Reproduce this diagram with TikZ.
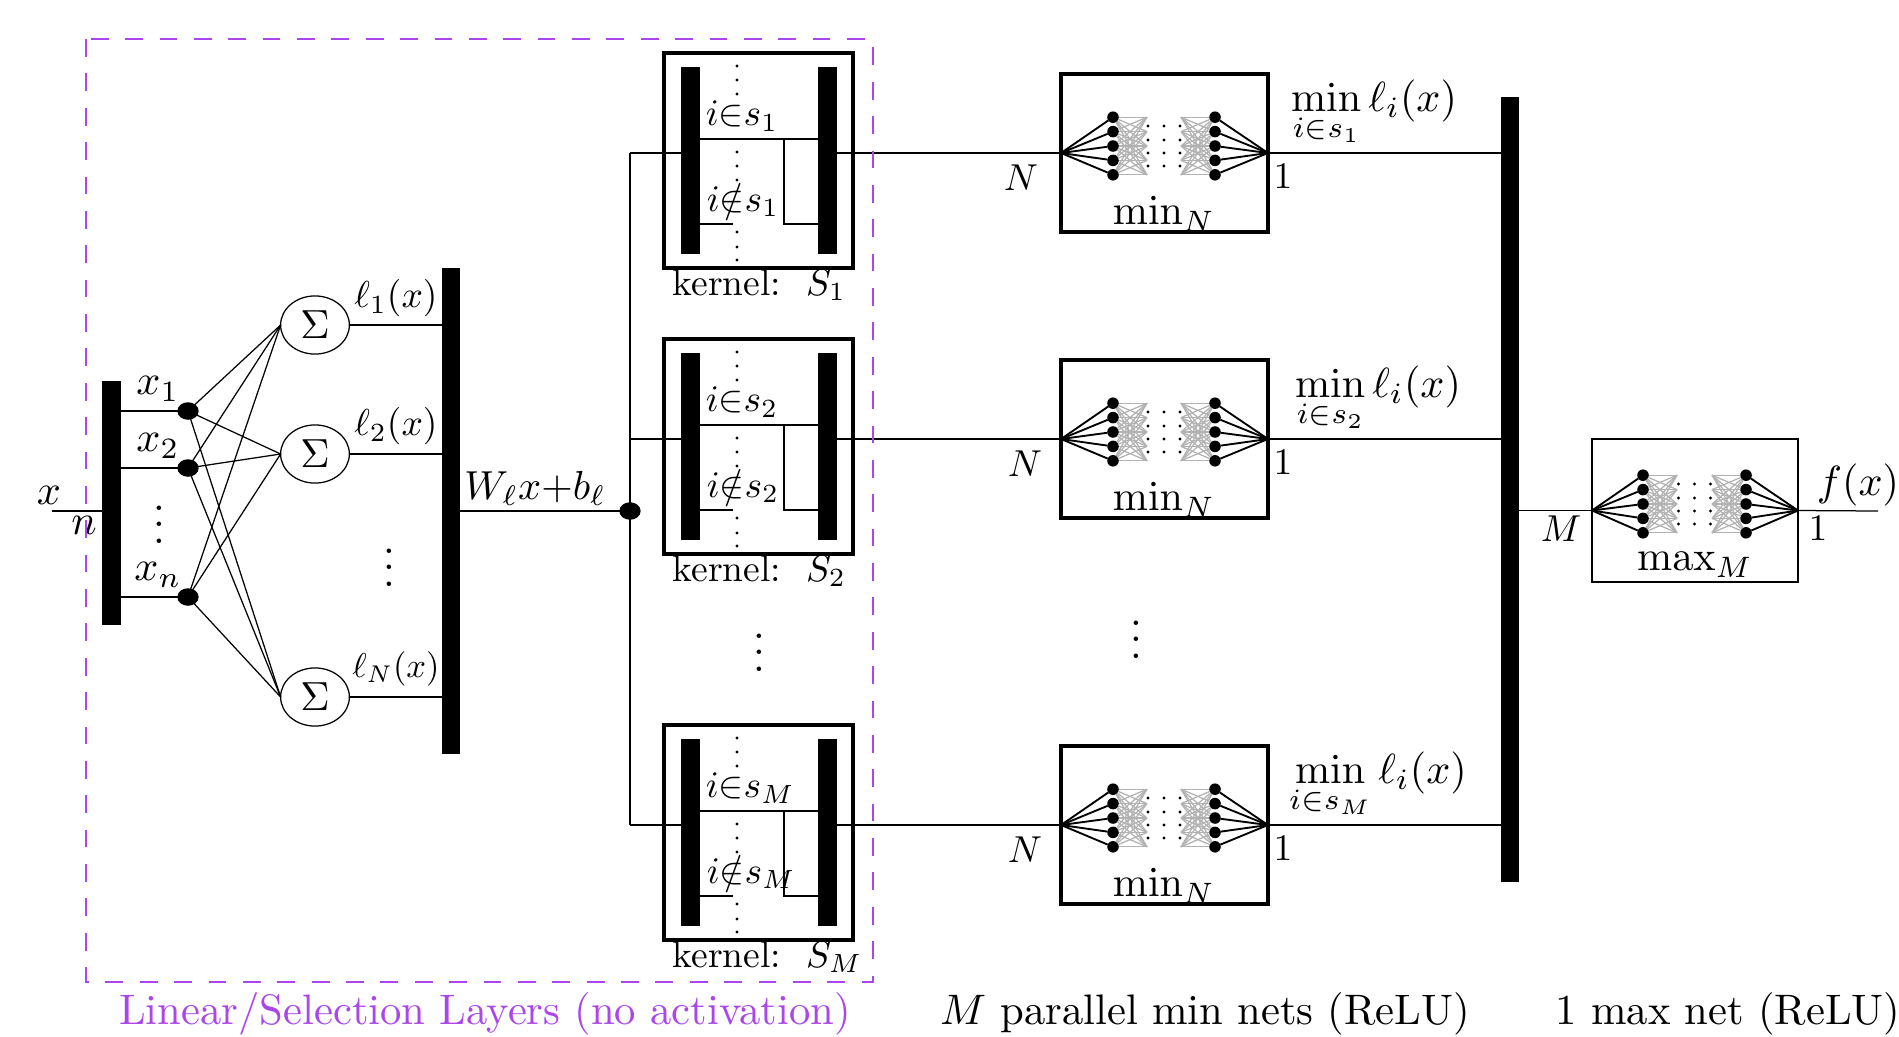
\documentclass[tikz,border=0pt]{standalone}
\usepackage{amsmath}
\usetikzlibrary{calc,shapes.geometric}

%% small fully connected net drawn inside a box: name, centre x, centre y, half gap
\newcommand{\tinynet}[4]{%
  \foreach \r in {1,...,5} {
    \pgfmathsetmacro{\ny}{#3+14.4*(\r-3)}
    \node[neuron] (#1L\r) at ({#2-#4},\ny) {};
    \node[neuron] (#1R\r) at ({#2+#4},\ny) {};
    \coordinate (#1A\r) at ({#2-#4+34},\ny);
    \coordinate (#1B\r) at ({#2+#4-34},\ny);
    \draw[semithick] (#1.west) -- (#1L\r);
    \draw[semithick] (#1.east) -- (#1R\r);
  }
  \foreach \r in {1,...,5} \foreach \s in {1,...,5} {
    \draw[netline] (#1L\r) -- (#1A\s);
    \draw[netline] (#1R\r) -- (#1B\s);
  }
  \foreach \c in {-16,0,16} \foreach \q in {-20,-6,7,20}
    \fill ({#2+\c},{#3+\q}) circle (0.5pt);
}

\begin{document}
\begin{tikzpicture}[
  x=0.32pt,y=-0.32pt,
  bar/.style     ={fill=black,minimum width=6pt,inner sep=0pt,outer sep=0pt},
  dotnode/.style ={draw,fill=black,ellipse,minimum width=6.4pt,minimum height=5.2pt,
                   inner sep=0pt,outer sep=0pt},
  sumnode/.style ={draw,ellipse,minimum width=22pt,minimum height=18.6pt,
                   inner sep=0pt,outer sep=0pt},
  kernelbox/.style={draw,very thick,minimum width=60.5pt,minimum height=68.8pt,
                   inner sep=0pt,outer sep=0pt},
  minbox/.style  ={draw,very thick,minimum width=66.2pt,minimum height=50.6pt,
                   inner sep=0pt,outer sep=0pt},
  maxbox/.style  ={draw,minimum width=65.9pt,minimum height=45.8pt,
                   inner sep=0pt,outer sep=0pt},
  neuron/.style  ={circle,fill=black,minimum size=3.7pt,inner sep=0pt,outer sep=0pt},
  netline/.style ={draw=black!30,line width=0.4pt},
  zone/.style    ={draw={rgb,255:red,170;green,70;blue,235},
                   dash pattern=on 5.7pt off 5.3pt,line width=0.5pt},
  lab/.style     ={inner sep=0pt,scale=1.2},
  biglab/.style  ={inner sep=0pt,scale=1.35},
  caption/.style ={inner sep=0pt,scale=1.365},
]
\useasboundingbox (0,0) rectangle (1899,1036);

%% ============================================================
%%  Input bar and selection dots
%% ============================================================
\coordinate (in) at (52,511);
\node[bar,minimum height=78pt] (inbar) at (111.5,503) {};
\draw (in) -- (inbar.west |- in) coordinate (inend);
\node[biglab] (xlab) at (49,495) {$x$};
\node[biglab] (nlab) at (84,525) {$n$};

\node[dotnode] (d1) at (188,411) {};
\node[dotnode] (d2) at (188,468) {};
\node[dotnode] (dn) at (188,597) {};
\draw (inbar.east |- d1) -- (d1);
\draw (inbar.east |- d2) -- (d2);
\draw (inbar.east |- dn) -- (dn);
\node[biglab] (x1lab) at (158,389) {$x_1$};
\node[biglab] (x2lab) at (158,446) {$x_2$};
\node[biglab] (xnlab) at (158,575) {$x_n$};
\node[biglab] (xdots) at (159,512) {$\vdots$};

%% ============================================================
%%  Summation nodes
%% ============================================================
\node[sumnode] (s1) at (315,325) {\scalebox{1.3}{$\Sigma$}};
\node[sumnode] (s2) at (315,454) {\scalebox{1.3}{$\Sigma$}};
\node[sumnode] (sN) at (315,697) {\scalebox{1.3}{$\Sigma$}};
\foreach \a in {d1,d2,dn} \foreach \b in {s1,s2,sN}
  \draw (\a) -- (\b.west);

\node[bar,minimum height=155.5pt] (lbar) at (451,511) {};
\draw (s1) -- (lbar.west |- s1);
\draw (s2) -- (lbar.west |- s2);
\draw (sN) -- (lbar.west |- sN);
\node[lab] (l1lab) at (396,298) {$\ell_1(x)$};
\node[lab] (l2lab) at (396,426) {$\ell_2(x)$};
\node[lab,scale=0.92] (lNlab) at (396,669) {$\ell_N(x)$};
\node[biglab] (ldots) at (389,555) {$\vdots$};

%% ============================================================
%%  Split point
%% ============================================================
\node[dotnode] (split) at (630,511) {};
\draw (lbar.east |- split) -- (split);
\node[biglab,scale=0.96] (wlab) at (535,488) {$W_\ell x{+}b_\ell$};

%% ============================================================
%%  Output bar
%% ============================================================
\node[bar,minimum height=251.5pt] (outbar) at (1510,489.5) {};

%% ============================================================
%%  Parallel kernels and min nets
%% ============================================================
\foreach \k/\dy/\dx/\idx in {1/0/0/1,2/286/4/2,M/672/4/M} {
  \node[kernelbox] (kern\k) at (758.5,{160.5+\dy}) {};
  \node[bar,minimum height=60pt] (kl\k) at (690.5,{160.5+\dy}) {};
  \node[bar,minimum height=60pt] (kr\k) at (827.5,{160.5+\dy}) {};
  \coordinate (up\k) at (784,{139+\dy});
  \coordinate (low\k) at (784,{224+\dy});
  \coordinate (cut\k) at (733,{224+\dy});
  \draw (kl\k.east |- up\k) -- (kr\k.west |- up\k);
  \draw (up\k) -- (low\k) -- (kr\k.west |- low\k);
  \draw (kl\k.east |- low\k) -- (cut\k);
  \foreach \q in {66,80,94,152,166,180,232,247,260}
    \fill (737,{\q+\dy}) circle (0.5pt);
  \node[lab,anchor=west] (in\k) at (705,{116+\dy}) {$i{\in}s_{\idx}$};
  \node[lab,anchor=west] (out\k) at (706,{200+\dy}) {$i{\notin}s_{\idx}$};
  \node[lab,anchor=west] (klab\k) at (672,{285+\dy}) {kernel:\ \ $S_{\idx}$};

  \node[minbox] (min\k) at (1164.5,{153+\dy}) {};
  \coordinate (tap\k) at (630,{153+\dy});
  \draw (tap\k) -- (kl\k.west |- tap\k);
  \draw (kr\k.east |- tap\k) -- (min\k.west);
  \draw (min\k.east) -- (outbar.west |- min\k);
  \tinynet{min\k}{1164}{146+\dy}{51}
  \node[biglab] (mlab\k) at (1164,{214+\dy}) {$\min_N$};
  \node[lab] (Nlab\k) at ({1021+\dx},{178+\dy}) {$N$};
  \node[lab] (onelab\k) at (1283,{176+\dy}) {$1$};
  \node[biglab] (rlab\k) at ({1374+\dx},{113+\dy}) {$\min\limits_{i\in s_{\idx}}\ell_i(x)$};
}
\draw (tap1) -- (tapM);
\node[biglab] (kdots) at (759,640) {$\vdots$};
\node[biglab] (mdots) at (1136,627) {$\vdots$};

%% ============================================================
%%  Max net
%% ============================================================
\node[maxbox] (maxn) at (1695,510.5) {};
\draw (outbar.east |- maxn) -- (maxn.west);
\coordinate (out) at (1878,511);
\draw (maxn.east) -- (out);
\tinynet{maxn}{1694.5}{504}{51.5}
\node[biglab] (maxlab) at (1695,565) {$\max_M$};
\node[lab] (Mlab) at (1561,529) {$M$};
\node[lab] (onemax) at (1818,528) {$1$};
\node[biglab] (flab) at (1858,485) {$f(x)$};

%% ============================================================
%%  Zone and captions
%% ============================================================
\draw[zone] (86,39) rectangle (873,982);
\node[caption,text={rgb,255:red,170;green,70;blue,235}] (cap1) at (485,1014)
      {Linear/Selection Layers (no activation)};
\node[caption] (cap2) at (1205,1014) {$M$ parallel min nets (ReLU)};
\node[caption] (cap3) at (1728,1014) {1 max net (ReLU)};

\end{tikzpicture}
\end{document}
